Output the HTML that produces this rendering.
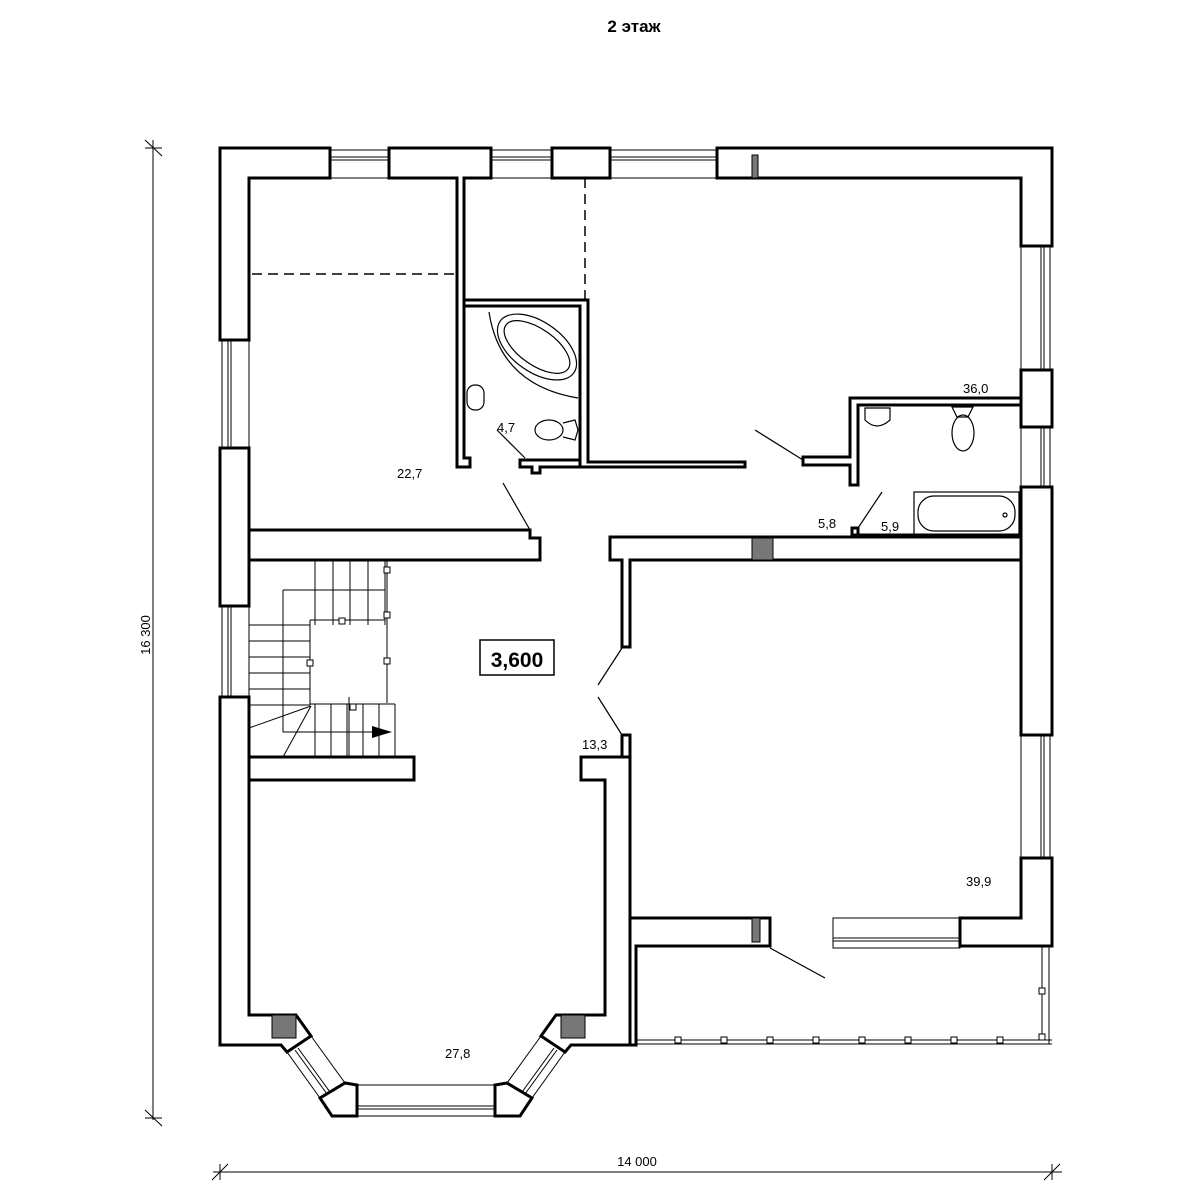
<!DOCTYPE html>
<html><head><meta charset="utf-8"><style>
html,body{margin:0;padding:0;background:#fff}
svg{display:block}
text{font-family:"Liberation Sans",Arial,sans-serif;fill:#000}
</style></head><body>
<svg width="1200" height="1200" viewBox="0 0 1200 1200" xmlns="http://www.w3.org/2000/svg">
<text x="634" y="32" font-size="17" font-weight="bold" text-anchor="middle">2 этаж</text>

<g stroke="#000" stroke-width="1" fill="none">
<line x1="153" y1="140" x2="153" y2="1120"/>
<line x1="145" y1="140" x2="162" y2="156"/><line x1="145" y1="148" x2="162" y2="148"/>
<line x1="145" y1="1110" x2="162" y2="1126"/><line x1="145" y1="1118" x2="162" y2="1118"/>
<line x1="213" y1="1172" x2="1062" y2="1172"/>
<line x1="220" y1="1164" x2="220" y2="1180"/><line x1="212" y1="1180" x2="228" y2="1164"/>
<line x1="1052" y1="1164" x2="1052" y2="1180"/><line x1="1044" y1="1180" x2="1060" y2="1164"/>
</g>
<text x="0" y="0" font-size="13" text-anchor="middle" transform="translate(150,635) rotate(-90)">16 300</text>
<text x="637" y="1166" font-size="13" text-anchor="middle">14 000</text>

<g stroke="#000" stroke-width="1" fill="none">
<rect x="330" y="150" width="59" height="28"/><line x1="330" y1="157" x2="389" y2="157"/><line x1="330" y1="160" x2="389" y2="160"/>
<rect x="491" y="150" width="61" height="28"/><line x1="491" y1="157" x2="552" y2="157"/><line x1="491" y1="160" x2="552" y2="160"/>
<rect x="610" y="150" width="107" height="28"/><line x1="610" y1="157" x2="717" y2="157"/><line x1="610" y1="160" x2="717" y2="160"/>
<rect x="222" y="340" width="27" height="108"/><line x1="228" y1="340" x2="228" y2="448"/><line x1="231" y1="340" x2="231" y2="448"/>
<rect x="222" y="606" width="27" height="91"/><line x1="228" y1="606" x2="228" y2="697"/><line x1="231" y1="606" x2="231" y2="697"/>
<rect x="1021" y="246" width="29" height="124"/><line x1="1041" y1="246" x2="1041" y2="370"/><line x1="1044" y1="246" x2="1044" y2="370"/>
<rect x="1021" y="427" width="29" height="60"/><line x1="1041" y1="427" x2="1041" y2="487"/><line x1="1044" y1="427" x2="1044" y2="487"/>
<rect x="1021" y="735" width="29" height="123"/><line x1="1041" y1="735" x2="1041" y2="858"/><line x1="1044" y1="735" x2="1044" y2="858"/>
<rect x="357" y="1085" width="138" height="31"/><line x1="357" y1="1106" x2="495" y2="1106"/><line x1="357" y1="1109" x2="495" y2="1109"/>
<polygon points="287,1052 311,1036 345,1083 320,1098"/>
<line x1="295" y1="1050" x2="327" y2="1094"/><line x1="298" y1="1048" x2="330" y2="1092"/>
<polygon points="565,1052 541,1036 507,1083 532,1098"/>
<line x1="557" y1="1050" x2="525" y2="1094"/><line x1="554" y1="1048" x2="522" y2="1092"/>
<rect x="833" y="918" width="127" height="30"/><line x1="833" y1="938" x2="960" y2="938"/><line x1="833" y1="941" x2="960" y2="941"/>
<line x1="636" y1="1040" x2="1052" y2="1040"/><line x1="636" y1="1044" x2="1052" y2="1044"/>
<line x1="1042" y1="946" x2="1042" y2="1040"/><line x1="1049" y1="946" x2="1049" y2="1044"/>
</g>
<g fill="#fff" stroke="#000" stroke-width="1">
<rect x="675" y="1037" width="6" height="6"/><rect x="721" y="1037" width="6" height="6"/><rect x="767" y="1037" width="6" height="6"/><rect x="813" y="1037" width="6" height="6"/><rect x="859" y="1037" width="6" height="6"/><rect x="905" y="1037" width="6" height="6"/><rect x="951" y="1037" width="6" height="6"/><rect x="997" y="1037" width="6" height="6"/>
<rect x="1039" y="988" width="6" height="6"/><rect x="1039" y="1034" width="6" height="6"/>
</g>

<g fill="#fff" stroke="#000" stroke-width="3" stroke-linejoin="miter">
<polygon points="220,148 330,148 330,178 249,178 249,340 220,340"/>
<polygon points="389,148 491,148 491,178 464,178 464,458 470,458 470,467 457,467 457,178 389,178"/>
<rect x="552" y="148" width="58" height="30"/>
<polygon points="717,148 1052,148 1052,246 1021,246 1021,178 717,178"/>
<rect x="1021" y="370" width="31" height="57"/>
<rect x="1021" y="487" width="31" height="248"/>
<polygon points="1021,858 1052,858 1052,946 960,946 960,918 1021,918"/>
<rect x="220" y="448" width="29" height="158"/>
<polygon points="220,697 249,697 249,1015 296,1015 311,1036 287,1052 281,1045 220,1045"/>
<polygon points="605,1015 605,780 581,780 581,757 630,757 630,1045 571,1045 565,1052 541,1036 556,1015"/>
<polygon points="249,530 530,530 530,538 540,538 540,560 249,560"/>
<polygon points="249,757 414,757 414,780 249,780"/>
<polygon points="610,537 1021,537 1021,560 630,560 630,647 622,647 622,560 610,560"/>
<rect x="622" y="735" width="8" height="22"/>
<polygon points="630,918 770,918 770,946 636,946 636,1045 630,1045"/>
<polygon points="464,300 588,300 588,462 745,462 745,467 580,467 580,306 464,306"/>
<polygon points="520,460 580,460 580,467 540,467 540,473 532,473 532,467 520,467"/>
<polygon points="850,398 1021,398 1021,405 858,405 858,485 850,485 850,465 803,465 803,457 850,457"/>
<polygon points="858,535 852,535 852,528 858,528"/>
<line x1="858" y1="535" x2="1021" y2="535"/>
<polygon points="345,1083 357,1085 357,1116 332,1116 320,1098"/>
<polygon points="507,1083 495,1085 495,1116 520,1116 532,1098"/>
</g>
<line x1="585" y1="178" x2="585" y2="300" stroke="#000" stroke-width="1.5" stroke-dasharray="10,6"/>
<line x1="252" y1="274" x2="455" y2="274" stroke="#000" stroke-width="1.5" stroke-dasharray="10,6"/>

<g fill="#777" stroke="#000" stroke-width="1">
<rect x="752" y="155" width="6" height="23"/>
<rect x="752" y="538" width="21" height="22"/>
<rect x="752" y="918" width="8" height="24"/>
<rect x="272" y="1015" width="24" height="23"/>
<rect x="561" y="1015" width="24" height="23"/>
</g>

<g fill="none" stroke="#000" stroke-width="1.2">
<path d="M489,312 Q500,385 578,398"/>
<ellipse cx="537" cy="347" rx="45" ry="25" transform="rotate(35 537 347)"/>
<ellipse cx="537" cy="347" rx="38" ry="18" transform="rotate(35 537 347)"/>
<rect x="467" y="385" width="17" height="25" rx="8"/>
<ellipse cx="549" cy="430" rx="14" ry="10"/>
<path d="M563,423 L575,420 L578,430 L575,440 L563,437"/>
<path d="M865,408 L890,408 L890,420 Q877,432 865,420 Z"/>
<ellipse cx="963" cy="433" rx="11" ry="18"/>
<path d="M952,407 L973,407 L968,417 L957,417 Z"/>
<rect x="914" y="492" width="105" height="43"/>
<rect x="918" y="496" width="97" height="35" rx="16"/>
<circle cx="1005" cy="515" r="2"/>
</g>

<g stroke="#000" stroke-width="1.2">
<line x1="755" y1="430" x2="803" y2="460"/>
<line x1="503" y1="483" x2="530" y2="530"/>
<line x1="497" y1="430" x2="525" y2="458"/>
<line x1="598" y1="685" x2="622" y2="648"/>
<line x1="598" y1="697" x2="622" y2="735"/>
<line x1="882" y1="492" x2="858" y2="528"/>
<line x1="770" y1="948" x2="825" y2="978"/>
</g>

<g stroke="#000" stroke-width="1" fill="none">
<line x1="315" y1="560" x2="315" y2="625"/><line x1="333" y1="560" x2="333" y2="625"/><line x1="350" y1="560" x2="350" y2="625"/><line x1="368" y1="560" x2="368" y2="625"/><line x1="385" y1="560" x2="385" y2="625"/>
<line x1="283" y1="590" x2="385" y2="590"/>
<line x1="283" y1="590" x2="283" y2="732"/>
<line x1="310" y1="620" x2="385" y2="620"/><line x1="310" y1="620" x2="310" y2="705"/>
<line x1="387" y1="560" x2="387" y2="703"/>
<line x1="249" y1="625" x2="310" y2="625"/><line x1="249" y1="641" x2="310" y2="641"/><line x1="249" y1="657" x2="310" y2="657"/><line x1="249" y1="673" x2="310" y2="673"/><line x1="249" y1="689" x2="310" y2="689"/><line x1="249" y1="705" x2="310" y2="705"/>
<line x1="310" y1="704" x2="395" y2="704"/>
<line x1="315" y1="704" x2="315" y2="757"/><line x1="331" y1="704" x2="331" y2="757"/><line x1="347" y1="704" x2="347" y2="757"/><line x1="363" y1="704" x2="363" y2="757"/><line x1="379" y1="704" x2="379" y2="757"/><line x1="395" y1="704" x2="395" y2="757"/>
<line x1="349" y1="697" x2="349" y2="757"/>
<line x1="283" y1="732" x2="380" y2="732"/>
<line x1="249" y1="728" x2="311" y2="706"/><line x1="283" y1="757" x2="311" y2="706"/>
</g>
<polygon points="372,726 392,732 372,738" fill="#000"/>
<g fill="#fff" stroke="#000" stroke-width="1">
<rect x="384" y="567" width="6" height="6"/><rect x="384" y="612" width="6" height="6"/><rect x="384" y="658" width="6" height="6"/>
<rect x="339" y="618" width="6" height="6"/><rect x="307" y="660" width="6" height="6"/><rect x="350" y="704" width="6" height="6"/>
</g>

<rect x="480" y="640" width="74" height="35" fill="#fff" stroke="#000" stroke-width="1.5"/>
<text x="517" y="667" font-size="21" font-weight="bold" text-anchor="middle">3,600</text>

<g font-size="13">
<text x="397" y="478">22,7</text>
<text x="497" y="432">4,7</text>
<text x="963" y="393">36,0</text>
<text x="818" y="528">5,8</text>
<text x="881" y="531">5,9</text>
<text x="582" y="749">13,3</text>
<text x="966" y="886">39,9</text>
<text x="445" y="1058">27,8</text>
</g>
</svg>
</body></html>
